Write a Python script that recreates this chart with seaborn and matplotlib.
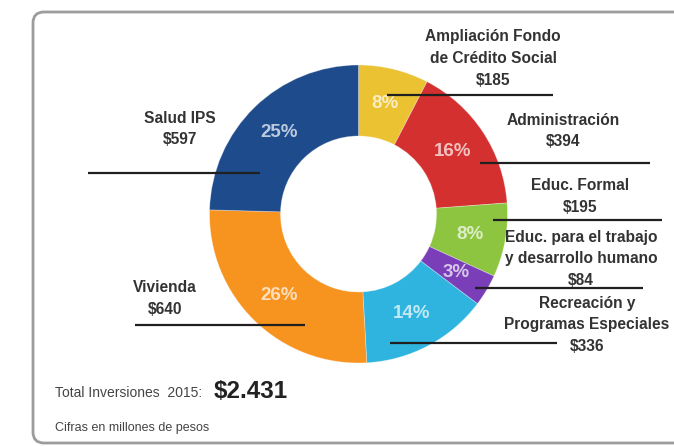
import matplotlib
matplotlib.use("Agg")
import matplotlib.pyplot as plt
from matplotlib.patches import FancyBboxPatch
import seaborn as sns
import pandas as pd

# Inversiones 2015 por programa (millones de pesos)
categorias = [
    "Ampliación Fondo\nde Crédito Social",
    "Administración",
    "Educ. Formal",
    "Educ. para el trabajo\ny desarrollo humano",
    "Recreación y\nProgramas Especiales",
    "Vivienda",
    "Salud IPS",
]
valores = [185, 394, 195, 84, 336, 640, 597]
colores = ["#EAC232", "#D3302F", "#8DC540", "#7A3FB8", "#2EB4DE", "#F7931F", "#1E4B8B"]
total_texto = "$2.431"

df = pd.DataFrame({"categoria": categorias, "valor": valores, "color": colores})

sns.set_theme(style="white")
FONT = ["Liberation Sans", "DejaVu Sans"]
plt.rcParams["font.family"] = FONT

W, H = 674, 446
fig = plt.figure(figsize=(W / 100, H / 100), dpi=100)
ax = fig.add_axes([0, 0, 1, 1])


def py(y):
    """Convert a top-down pixel row to the axes' y coordinate."""
    return H - y


# donut
cx, cy, R = 358.5, py(214), 149
wedges, _, pcts = ax.pie(
    df["valor"], colors=df["color"], startangle=90, counterclock=False,
    center=(cx, cy), radius=R, frame=True,
    wedgeprops=dict(width=R - 78, linewidth=0.6, edgecolor=(1, 1, 1, 0.35)),
    autopct="%.0f%%", pctdistance=0.76,
    textprops=dict(color="white", fontsize=13.5, fontweight="bold", family=FONT),
)
for t in pcts:
    t.set_alpha(0.7)
    t.set_zorder(4)
ax.set_xlim(0, W)
ax.set_ylim(0, H)
ax.set_aspect("auto")
ax.axis("off")

# rounded frame around the graphic
frame = FancyBboxPatch((33, py(443)), 700, 443 - 12,
                       boxstyle="round,pad=0,rounding_size=11",
                       linewidth=2.0, edgecolor="#9c9c9c", facecolor="white",
                       zorder=-1)
ax.add_patch(frame)

# category labels: (text centre x, text centre y, leader x0, leader x1, leader y)
layout = [
    (493, 58.5, 387, 553, 95),
    (563, 131, 480, 650, 163),
    (580, 196.5, 493, 662, 220),
    (581, 259, 475, 643, 288),
    (587, 325, 390, 557, 343),
    (165, 298.5, 135, 305, 325),
    (180, 129, 88, 260, 173),
]
for (cat, val), (tx, ty, x0, x1, ly) in zip(zip(df["categoria"], df["valor"]), layout):
    ax.text(tx, py(ty), f"{cat}\n\\${val}", ha="center", va="center",
            fontsize=11.2, fontweight="bold", color="#333333", family=FONT,
            linespacing=1.55, zorder=5)
    ax.plot([x0, x1], [py(ly), py(ly)], color="#202020", lw=1.6,
            solid_capstyle="butt", zorder=6)

# totals
ax.text(55, py(393), "Total Inversiones  2015:", ha="left", va="center",
        fontsize=10, color="#444444", family=FONT)
ax.text(214, py(392), total_texto.replace("$", "\\$"), ha="left", va="center",
        fontsize=17.5, fontweight="bold", color="#222222", family=FONT)
ax.text(55, py(428), "Cifras en millones de pesos", ha="left", va="center",
        fontsize=9, color="#444444", family=FONT)

fig.savefig("out.png", dpi=100)
